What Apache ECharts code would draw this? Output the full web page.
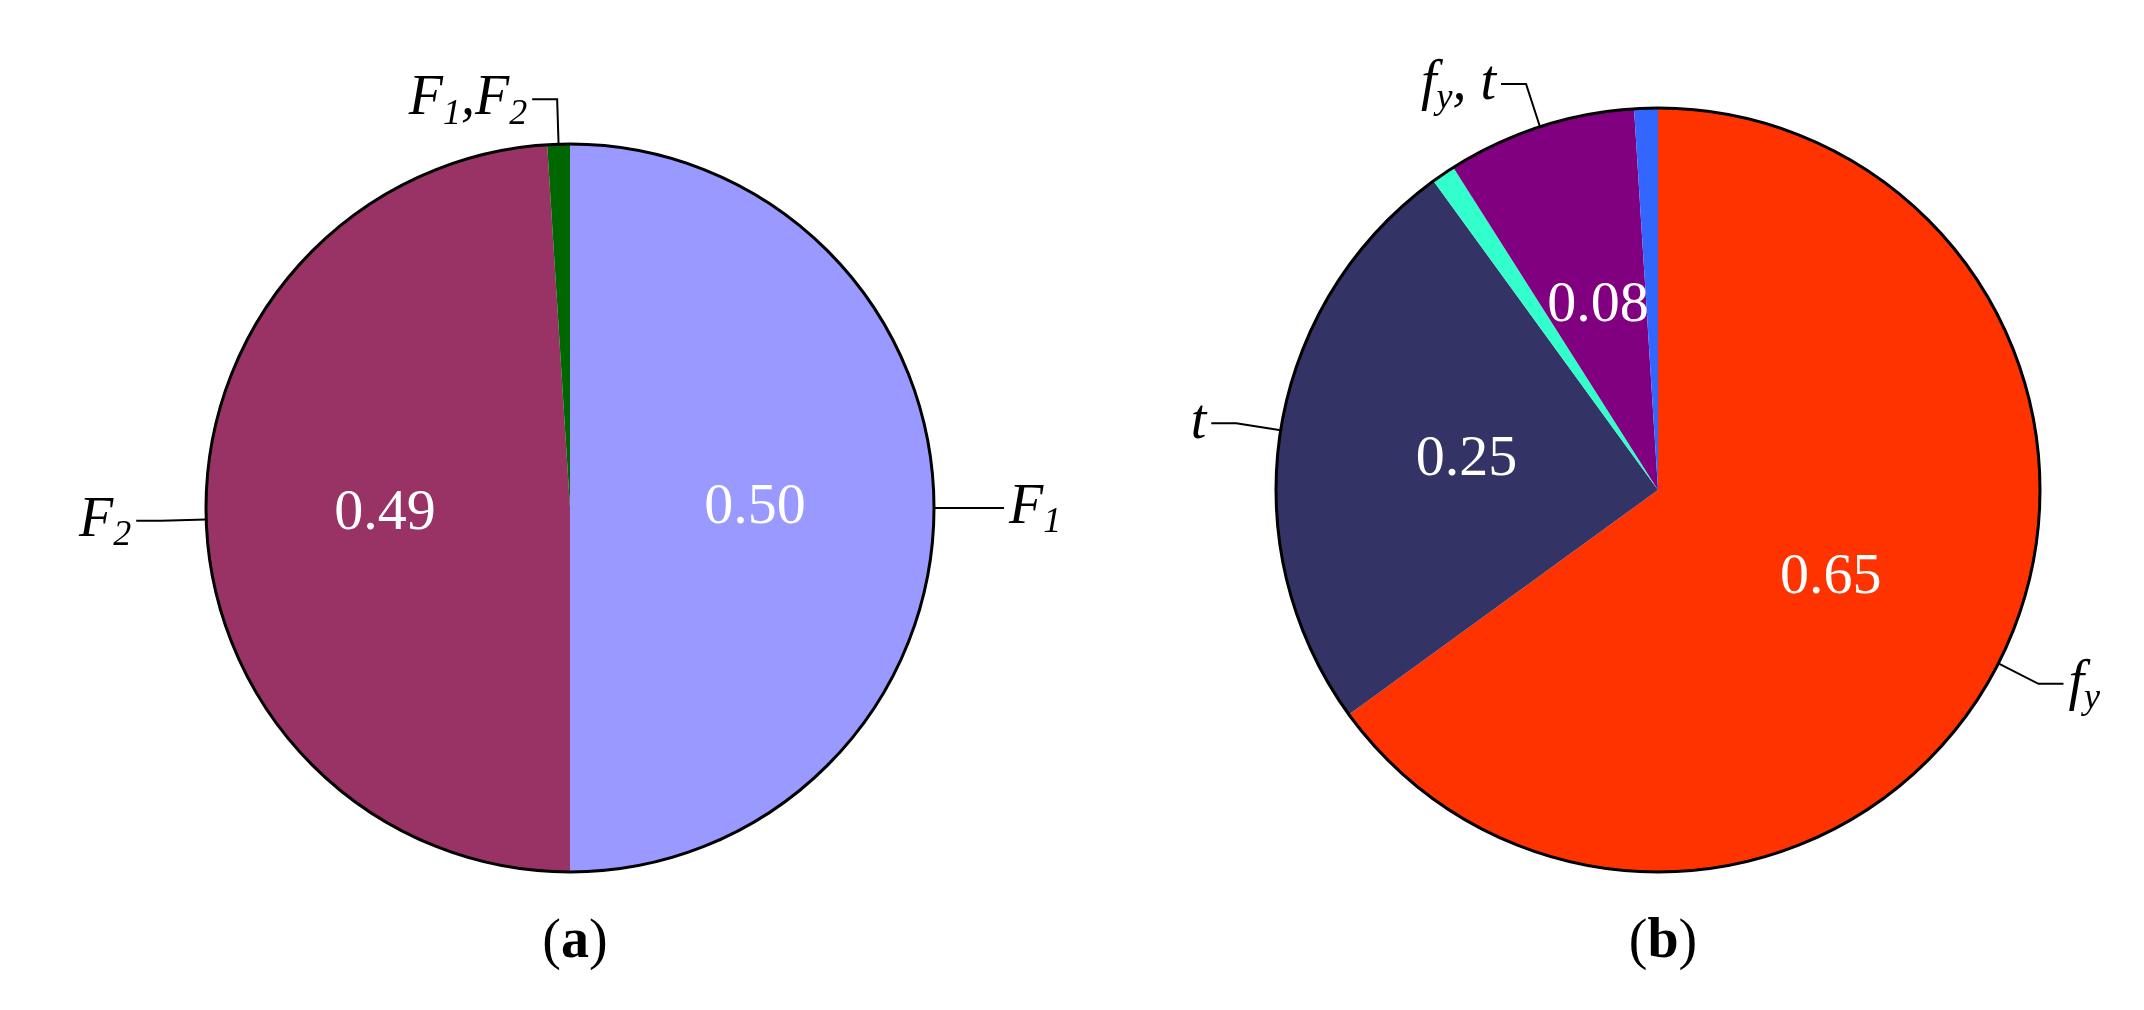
<!DOCTYPE html>
<html>
<head>
<meta charset="utf-8">
<script src="https://cdn.jsdelivr.net/npm/echarts@6/dist/echarts.min.js"></script>
<style>html,body{margin:0;padding:0;background:#fff}#main{width:2144px;height:1010px}</style>
</head>
<body>
<div id="main"></div>
<script>
// pie (a)
var namesA = ['F1', 'F2', 'F1,F2'];
var valuesA = [0.50, 0.49, 0.01];
var labelsA = ['{i|F}{s|1}', '{i|F}{s|2}', '{i|F}{s|1}{i|,F}{s|2}'];
var colorsA = ['#9999ff', '#993366', '#006600'];
// pie (b)
var namesB = ['fy', 't', 't2', 'fy,t', 'fy2'];
var valuesB = [0.65, 0.25, 0.01, 0.08, 0.01];
var labelsB = ['{i|f}{s|y}', '{i|t}', '', '{i|f}{s|y}{i|, t}', ''];
var colorsB = ['#ff3300', '#333366', '#33ffcc', '#800080', '#3366ff'];

var serif = 'Liberation Serif';
var rich = {
    i: {fontFamily: serif, fontStyle: 'italic', fontSize: 56, color: '#000'},
    s: {fontFamily: serif, fontStyle: 'italic', fontSize: 36, color: '#000', verticalAlign: 'bottom', padding: [30, 0, 0, 0]}
};

function pieSeries(center, r, names, values, colors, outLabels) {
    var inner = {
        type: 'pie', center: center, radius: r, startAngle: 90, silent: true,
        avoidLabelOverlap: false,
        data: names.map(function (n, k) {
            return {name: n, value: values[k], itemStyle: {color: colors[k]}};
        }),
        label: {
            position: 'inside', color: '#fff', fontFamily: serif, fontSize: 58,
            formatter: function (p) { return p.value >= 0.05 ? p.value.toFixed(2) : ''; }
        },
        labelLine: {show: false}
    };
    var outer = {
        type: 'pie', center: center, radius: r, startAngle: 90, silent: true,
        avoidLabelOverlap: false,
        data: names.map(function (n, k) {
            return {
                name: n, value: values[k],
                itemStyle: {color: 'rgba(0,0,0,0)'},
                label: {show: outLabels[k] !== ''},
                labelLine: {show: outLabels[k] !== ''}
            };
        }),
        label: {
            position: 'outside', rich: rich,
            formatter: function (p) { return outLabels[p.dataIndex]; }
        },
        labelLine: {length: 45, length2: 25, lineStyle: {color: '#000', width: 2}}
    };
    var ring = {
        type: 'pie', center: center, radius: r, silent: true,
        data: [{value: 1, itemStyle: {color: 'rgba(0,0,0,0)', borderColor: '#000', borderWidth: 3}}],
        label: {show: false}, labelLine: {show: false}
    };
    return [inner, outer, ring];
}

var myChart = echarts.init(document.getElementById('main'));
var option = {
    backgroundColor: '#fff',
    animation: false,
    title: [
        {text: '({a|a})', left: 570, top: 910, textAlign: 'center',
            textStyle: {fontFamily: serif, fontSize: 56, fontWeight: 'normal', color: '#000',
                rich: {a: {fontFamily: serif, fontSize: 56, fontWeight: 'bold', color: '#000'}}}},
        {text: '({a|b})', left: 1658, top: 910, textAlign: 'center',
            textStyle: {fontFamily: serif, fontSize: 56, fontWeight: 'normal', color: '#000',
                rich: {a: {fontFamily: serif, fontSize: 56, fontWeight: 'bold', color: '#000'}}}}
    ],
    series: pieSeries([570, 508], 364, namesA, valuesA, colorsA, labelsA)
        .concat(pieSeries([1658, 490], 382, namesB, valuesB, colorsB, labelsB))
};
myChart.setOption(option);
</script>
</body>
</html>
